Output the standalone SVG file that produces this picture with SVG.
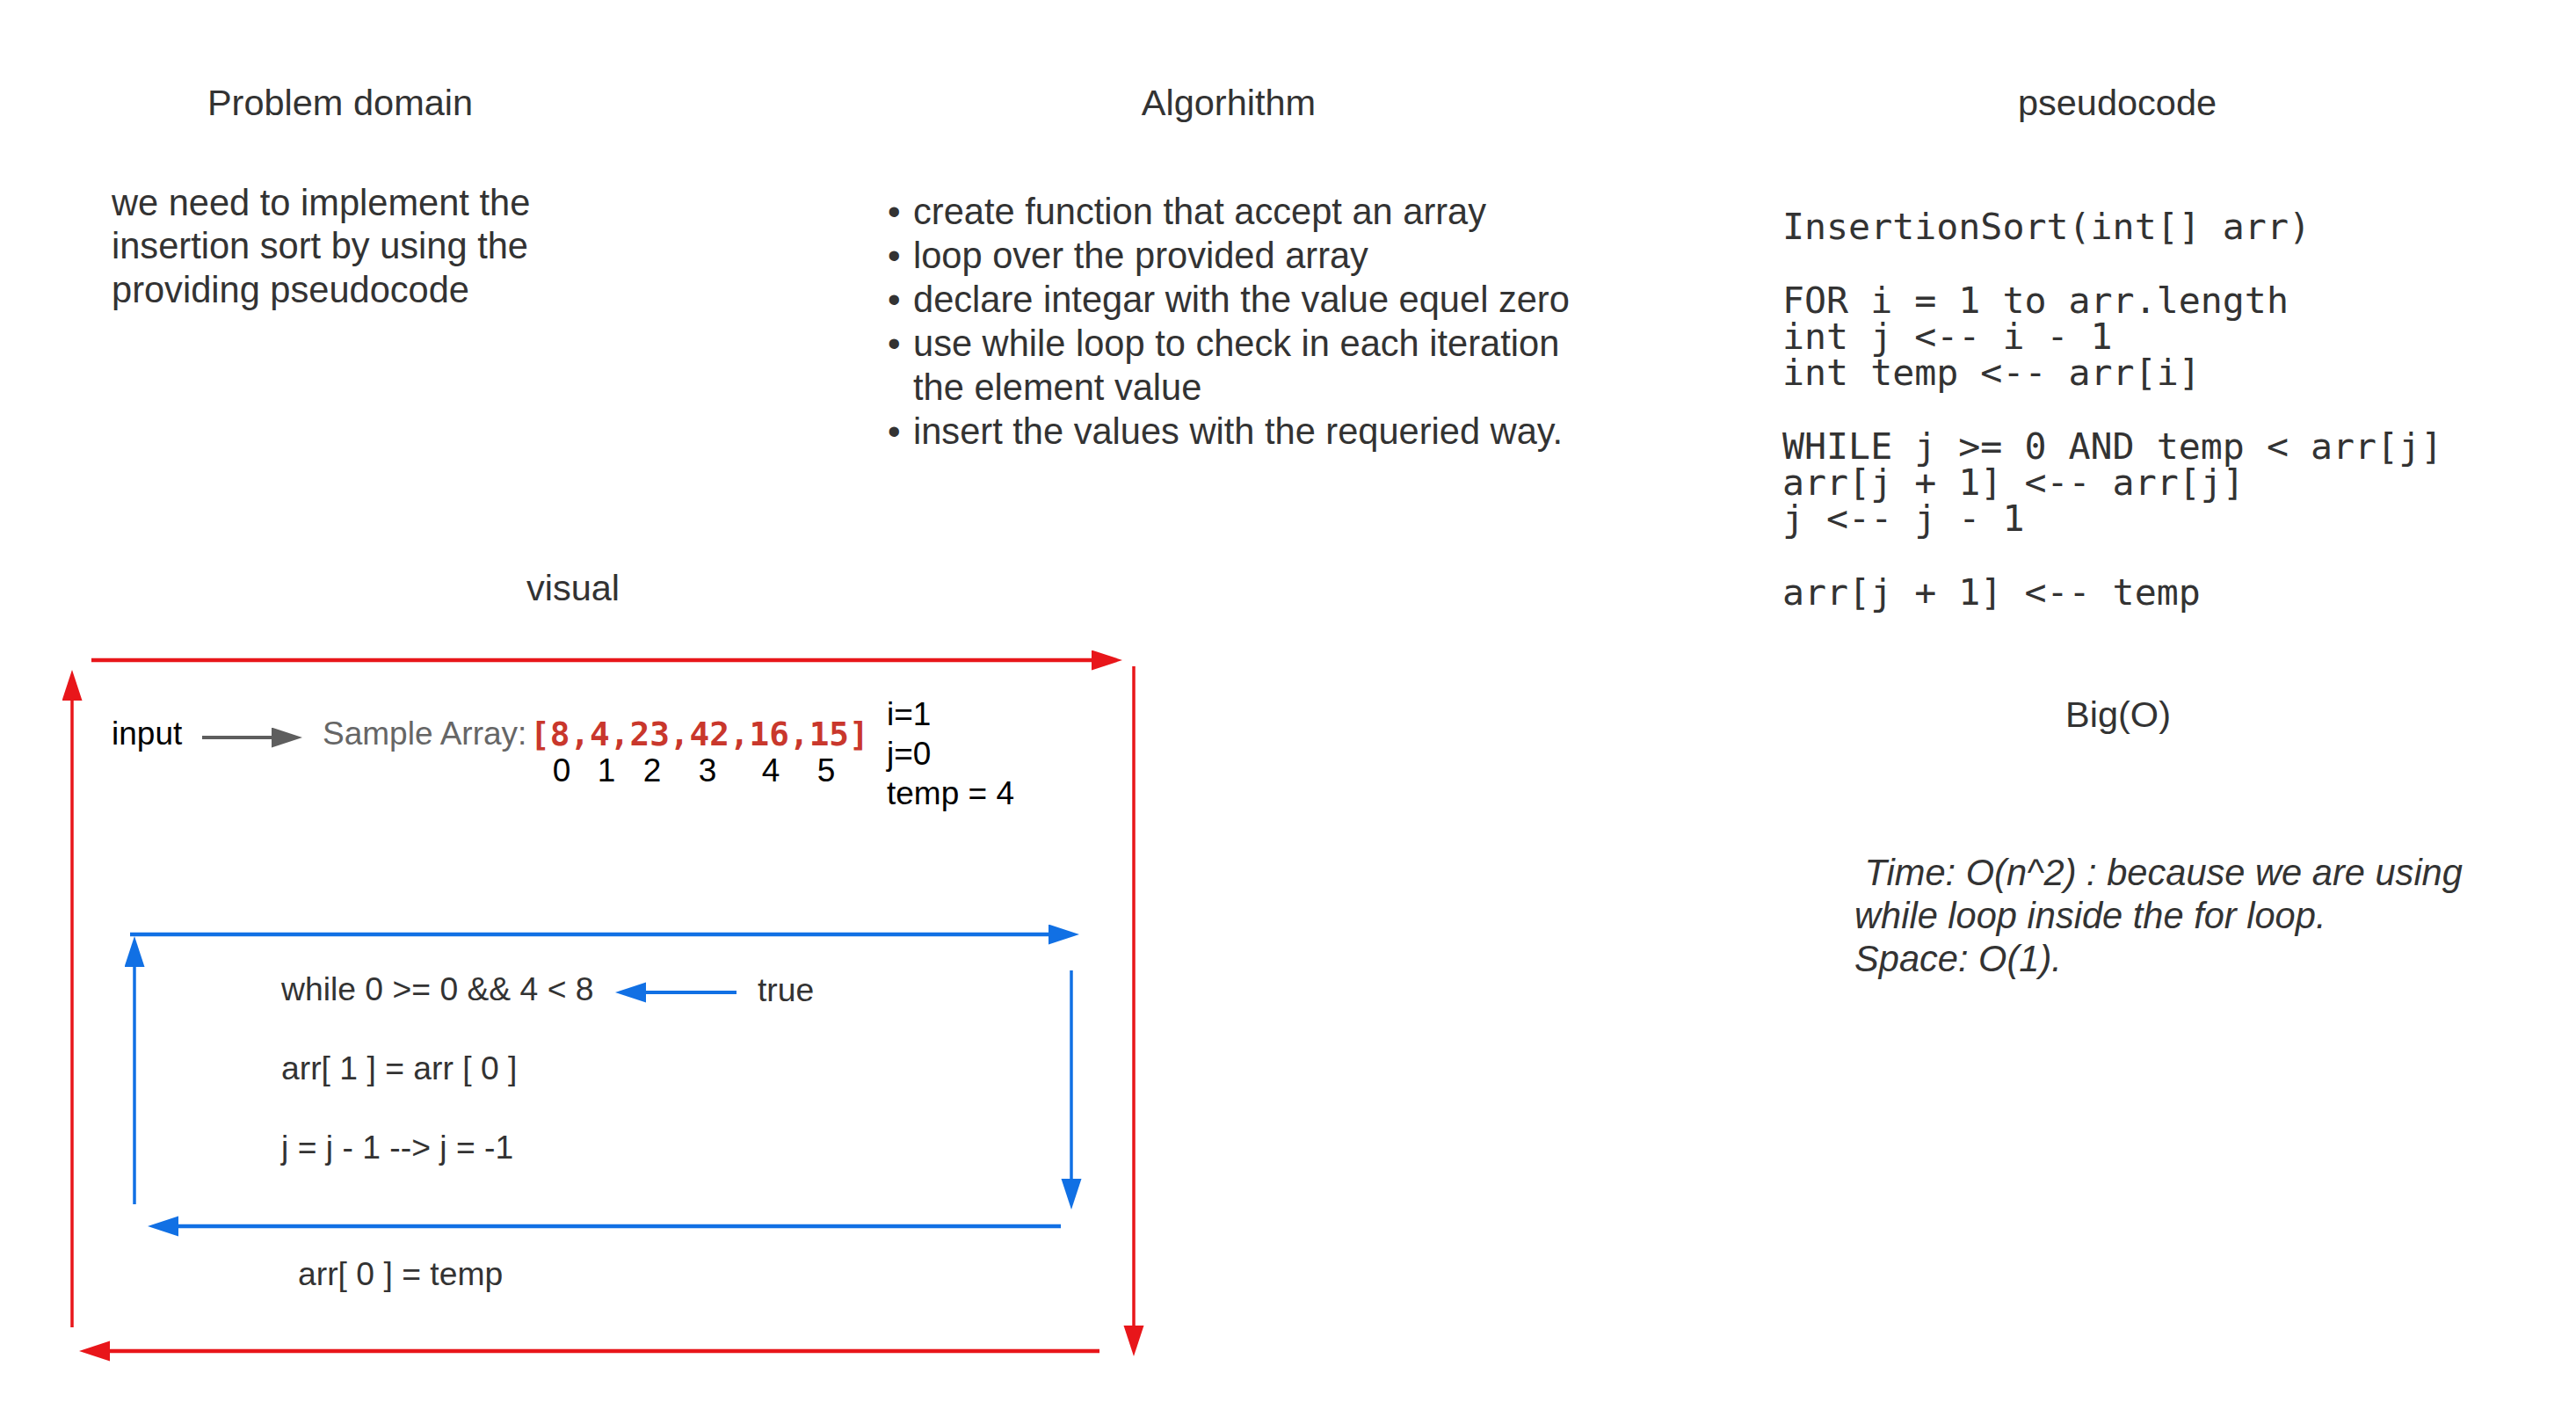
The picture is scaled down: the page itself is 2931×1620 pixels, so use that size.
<svg xmlns="http://www.w3.org/2000/svg" width="2931" height="1620" viewBox="0 0 2931 1620">
  <style>
    .h { font-family: "Liberation Sans", Arial, sans-serif; font-size: 41.5px; fill: #333333; text-anchor: middle; }
    .b { font-family: "Liberation Sans", Arial, sans-serif; font-size: 41.6px; fill: #333333; }
    .it { font-family: "Liberation Sans", Arial, sans-serif; font-size: 41.6px; fill: #333333; font-style: italic; }
    .code { font-family: "DejaVu Sans Mono", "Liberation Mono", monospace; font-size: 41.6px; fill: #333333; }
    .v { font-family: "Liberation Sans", Arial, sans-serif; font-size: 37.3px; fill: #333333; }
    .k { font-family: "Liberation Sans", Arial, sans-serif; font-size: 37px; fill: #000000; }
    .gray { font-family: "Liberation Sans", Arial, sans-serif; font-size: 37px; fill: #666666; }
    .arr { font-family: "DejaVu Sans Mono", "Liberation Mono", monospace; font-size: 37.7px; font-weight: bold; fill: #c9372c; }
    .red { stroke: #e8161a; fill: none; }
    .blue { stroke: #1170e4; fill: none; }
    .grayl { stroke: #5e5e5e; fill: none; stroke-width: 4; }
  </style>
  <defs>
    <marker id="ah-red" markerUnits="userSpaceOnUse" markerWidth="36" markerHeight="24" refX="25" refY="11.5" orient="auto">
      <path d="M0,0 L35,11.5 L0,23 Z" fill="#e8161a"/>
    </marker>
    <marker id="ah-blue" markerUnits="userSpaceOnUse" markerWidth="36" markerHeight="24" refX="25" refY="11.5" orient="auto">
      <path d="M0,0 L35,11.5 L0,23 Z" fill="#1170e4"/>
    </marker>
    <marker id="ah-gray" markerUnits="userSpaceOnUse" markerWidth="36" markerHeight="24" refX="25" refY="11.5" orient="auto">
      <path d="M0,0 L35,11.5 L0,23 Z" fill="#5e5e5e"/>
    </marker>
  </defs>
  <rect width="2931" height="1620" fill="#ffffff"/>

  <g id="problem-domain">
    <text class="h" x="387" y="131">Problem domain</text>
    <text class="b" x="127" y="245">we need to implement the</text>
    <text class="b" x="127" y="294">insertion sort by using the</text>
    <text class="b" x="127" y="344">providing pseudocode</text>
  </g>

  <g id="algorithm">
    <text class="h" x="1398" y="131">Algorhithm</text>
    <text class="b" x="1010" y="255">•</text><text class="b" x="1039" y="255">create function that accept an array</text>
    <text class="b" x="1010" y="305">•</text><text class="b" x="1039" y="305">loop over the provided array</text>
    <text class="b" x="1010" y="355">•</text><text class="b" x="1039" y="355">declare integar with the value equel zero</text>
    <text class="b" x="1010" y="405">•</text><text class="b" x="1039" y="405">use while loop to check in each iteration</text>
    <text class="b" x="1039" y="455">the element value</text>
    <text class="b" x="1010" y="505">•</text><text class="b" x="1039" y="505">insert the values with the requeried way.</text>
  </g>

  <g id="pseudocode">
    <text class="h" x="2409" y="131">pseudocode</text>
    <text class="code" x="2028" y="272">InsertionSort(int[] arr)</text>
    <text class="code" x="2028" y="356">FOR i = 1 to arr.length</text>
    <text class="code" x="2028" y="397">int j &lt;-- i - 1</text>
    <text class="code" x="2028" y="438">int temp &lt;-- arr[i]</text>
    <text class="code" x="2028" y="522">WHILE j &gt;= 0 AND temp &lt; arr[j]</text>
    <text class="code" x="2028" y="563">arr[j + 1] &lt;-- arr[j]</text>
    <text class="code" x="2028" y="604">j &lt;-- j - 1</text>
    <text class="code" x="2028" y="688">arr[j + 1] &lt;-- temp</text>
  </g>

  <g id="big-o">
    <text class="h" x="2410" y="827">Big(O)</text>
    <text class="it" x="2110" y="1007" xml:space="preserve"> Time: O(n^2) : because we are using</text>
    <text class="it" x="2110" y="1056">while loop inside the for loop.</text>
    <text class="it" x="2110" y="1105">Space: O(1).</text>
  </g>

  <g id="visual-title">
    <text class="h" x="652" y="683">visual</text>
  </g>

  <g id="input">
    <text class="k" x="127" y="847">input</text>
  </g>

  <g id="sample-array">
    <text class="gray" x="367" y="847">Sample Array:</text>
    <text class="arr" x="603" y="848">[8,4,23,42,16,15]</text>
    <text class="k" y="889" text-anchor="middle"><tspan x="639">0</tspan><tspan x="690">1</tspan><tspan x="742">2</tspan><tspan x="805">3</tspan><tspan x="877">4</tspan><tspan x="940">5</tspan></text>
  </g>

  <g id="variables">
    <text class="k" x="1009" y="825">i=1</text>
    <text class="k" x="1009" y="870">j=0</text>
    <text class="k" x="1009" y="915">temp = 4</text>
  </g>

  <g id="while-body">
    <text class="v" x="320" y="1138">while 0 &gt;= 0 &amp;&amp; 4 &lt; 8</text>
    <text class="v" x="320" y="1228">arr[ 1 ] = arr [ 0 ]</text>
    <text class="v" x="320" y="1318">j = j - 1 --&gt; j = -1</text>
  </g>

  <g id="true-label">
    <text class="v" x="862" y="1139">true</text>
  </g>

  <g id="assign-temp">
    <text class="v" x="339" y="1462">arr[ 0 ] = temp</text>
  </g>

  <g id="connectors">
    <line class="red" stroke-width="4.5" x1="104" y1="751" x2="1267" y2="751" marker-end="url(#ah-red)"/>
    <line class="red" stroke-width="3.5" x1="1290" y1="758" x2="1290" y2="1533" marker-end="url(#ah-red)"/>
    <line class="red" stroke-width="4.5" x1="1251" y1="1537" x2="100" y2="1537" marker-end="url(#ah-red)"/>
    <line class="red" stroke-width="3.5" x1="82" y1="1510" x2="82" y2="772" marker-end="url(#ah-red)"/>

    <line class="blue" stroke-width="4.5" x1="148" y1="1063" x2="1218" y2="1063" marker-end="url(#ah-blue)"/>
    <line class="blue" stroke-width="3.5" x1="1219" y1="1104" x2="1219" y2="1366" marker-end="url(#ah-blue)"/>
    <line class="blue" stroke-width="4.5" x1="1207" y1="1395" x2="178" y2="1395" marker-end="url(#ah-blue)"/>
    <line class="blue" stroke-width="3.5" x1="153" y1="1370" x2="153" y2="1075" marker-end="url(#ah-blue)"/>
    <line class="blue" stroke-width="4" x1="838" y1="1129" x2="710" y2="1129" marker-end="url(#ah-blue)"/>

    <line class="grayl" x1="230" y1="839" x2="334" y2="839" marker-end="url(#ah-gray)"/>
  </g>
</svg>
